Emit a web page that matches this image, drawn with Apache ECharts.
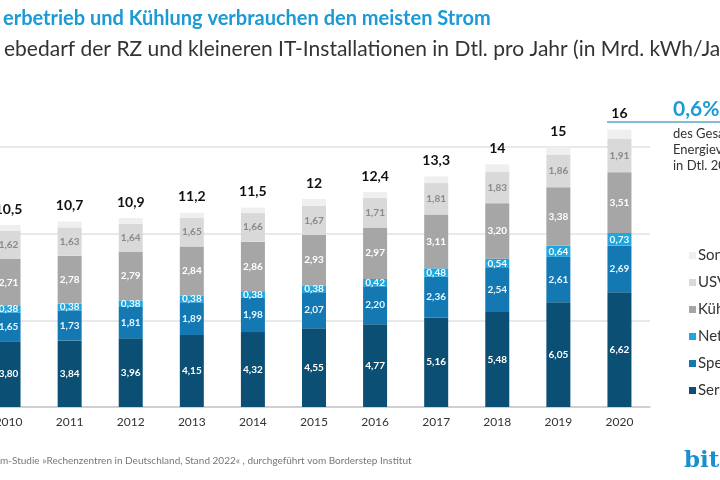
<!DOCTYPE html>
<html>
<head>
<meta charset="utf-8">
<script src="https://cdn.jsdelivr.net/npm/echarts@6/dist/echarts.min.js"></script>
<style>
  html, body { margin: 0; padding: 0; background: #fff; }
  #chart { width: 720px; height: 480px; }
</style>
</head>
<body>
<div id="chart"></div>
<script>
  // Stromverbrauch je Jahr, Mrd. kWh
  var years = ['2010','2011','2012','2013','2014','2015','2016','2017','2018','2019','2020'];
  var server    = [3.80, 3.84, 3.96, 4.15, 4.32, 4.55, 4.77, 5.16, 5.48, 6.05, 6.62];
  var speicher  = [1.65, 1.73, 1.81, 1.89, 1.98, 2.07, 2.20, 2.36, 2.54, 2.61, 2.69];
  var netzwerk  = [0.38, 0.38, 0.38, 0.38, 0.38, 0.38, 0.42, 0.48, 0.54, 0.64, 0.73];
  var kuehlung  = [2.71, 2.78, 2.79, 2.84, 2.86, 2.93, 2.97, 3.11, 3.20, 3.38, 3.51];
  var usv       = [1.62, 1.63, 1.64, 1.65, 1.66, 1.67, 1.71, 1.81, 1.83, 1.86, 1.91];
  var sonstige  = [0.34, 0.34, 0.32, 0.29, 0.30, 0.40, 0.33, 0.38, 0.41, 0.46, 0.54];
  var totals    = [10.5, 10.7, 10.9, 11.2, 11.5, 12, 12.4, 13.3, 14, 15, 16];
  var yTicks    = [0, 5, 10, 15];

  var FONT = 'Lato, "Open Sans", sans-serif';

  function comma(v) { return v.toFixed(2).replace('.', ','); }

  function seg(name, data, color, labelColor) {
    return {
      name: name,
      type: 'bar',
      stack: 'total',
      barWidth: 24,
      clip: false,
      data: data,
      itemStyle: { color: color },
      label: {
        show: labelColor != null,
        position: 'inside',
        color: labelColor,
        fontSize: 10,
        fontWeight: 'bold',
        fontFamily: FONT,
        formatter: function (p) { return comma(p.value); }
      }
    };
  }

  var chart = echarts.init(document.getElementById('chart'));

  var option = {
    animation: false,
    backgroundColor: '#fff',
    textStyle: { fontFamily: FONT },
    title: [
      {
        text: 'erbetrieb und Kühlung verbrauchen den meisten Strom',
        left: -2, top: 4,
        textStyle: { color: '#1b9ad6', fontSize: 20, fontWeight: 'bold', fontFamily: FONT }
      },
      {
        text: 'ebedarf der RZ und kleineren IT-Installationen in Dtl. pro Jahr (in Mrd. kWh/Jahr)',
        left: -1, top: 34,
        textStyle: { color: '#333', fontSize: 21, fontWeight: 'normal', fontFamily: FONT }
      }
    ],
    legend: {
      orient: 'vertical',
      left: 684, top: 243,
      itemWidth: 7, itemHeight: 7, itemGap: 12,
      icon: 'rect',
      textStyle: { color: '#333', fontSize: 15, fontFamily: FONT, padding: [0, 0, 0, -3] },
      data: ['Sonstige', 'USV', 'Kühlung', 'Netzwerk', 'Speicher', 'Server']
    },
    grid: { left: -22, right: 70, top: 147, bottom: 73, outerBoundsMode: 'none' },
    xAxis: {
      type: 'category',
      data: years,
      axisLine: { lineStyle: { color: '#c8c8c8', width: 1.5 } },
      axisTick: { show: false },
      axisLabel: { color: '#333', fontSize: 12, margin: 9, fontFamily: FONT }
    },
    yAxis: {
      type: 'value',
      min: yTicks[0], max: yTicks[yTicks.length - 1], interval: 5,
      axisLine: { show: false },
      axisTick: { show: false },
      axisLabel: { show: false },
      splitLine: { lineStyle: { color: '#e2e2e2', width: 1.5 } }
    },
    series: [
      seg('Server', server, '#0b5074', '#fff'),
      seg('Speicher', speicher, '#1479b2', '#e6f7ff'),
      seg('Netzwerk', netzwerk, '#1ea6df', '#f0fbff'),
      seg('Kühlung', kuehlung, '#a6a6a6', '#fff'),
      seg('USV', usv, '#d9d9d9', '#8a8a8a'),
      (function () {
        var s = seg('Sonstige', sonstige, '#efefef', null);
        s.label = {
          show: true,
          position: 'top',
          distance: 9,
          color: '#111',
          fontSize: 14,
          fontWeight: 'bold',
          fontFamily: FONT,
          formatter: function (p) { return String(totals[p.dataIndex]).replace('.', ','); }
        };
        return s;
      })()
    ],
    graphic: [
      {
        type: 'line', silent: true,
        shape: { x1: 607, y1: 122, x2: 720, y2: 122 },
        style: { stroke: '#5aa6c6', lineWidth: 1.5 }
      },
      {
        type: 'text', left: 673, top: 99,
        style: { text: '0,6%', fill: '#1b9ad6', font: 'bold 21px ' + FONT }
      },
      {
        type: 'text', left: 673, top: 126,
        style: { text: 'des Gesamt-\nEnergieverbrauchs\nin Dtl. 2020', fill: '#333', font: '13px ' + FONT, lineHeight: 16 }
      },
      {
        type: 'text', left: 0, top: 456,
        style: { text: 'm-Studie »Rechenzentren in Deutschland, Stand 2022« , durchgeführt vom Borderstep Institut', fill: '#777', font: '10px ' + FONT }
      },
      {
        type: 'text', left: 684, top: 450,
        style: { text: 'bitkom', fill: '#1a8fd0', font: 'bold 23px "DejaVu Serif", serif' }
      }
    ]
  };

  chart.setOption(option);
</script>
</body>
</html>
